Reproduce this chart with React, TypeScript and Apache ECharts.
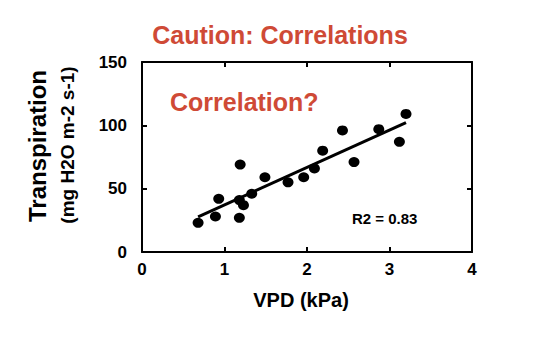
import React, { useEffect, useRef } from "react";
import * as echarts from "echarts";

const vpd = [0.68, 0.89, 0.93, 1.18, 1.19, 1.18, 1.23, 1.33, 1.49, 1.77, 1.96, 2.09, 2.19, 2.43, 2.57, 2.87, 3.12, 3.2];
const transpiration = [23, 28, 42, 27, 69, 41, 37, 46, 59, 55, 59, 66, 80, 96, 71, 97, 87, 109];
const trendX = [0.68, 3.2];
const trendY = [27.8, 102.2];
const xTicks = [0, 1, 2, 3, 4];
const yTicks = [0, 50, 100, 150];

const RED = "#CF4A36";
const FONT = "'Liberation Sans', Arial, sans-serif";

export default function App() {
  const ref = useRef<HTMLDivElement>(null);
  useEffect(() => {
    if (!ref.current) return;
    const chart = echarts.init(ref.current, undefined, { renderer: "svg" });
    const axisBase = {
      axisLine: { show: true, onZero: false, lineStyle: { color: "#000", width: 2 } },
      axisTick: { show: true, inside: true, length: 5, lineStyle: { color: "#000", width: 2 } },
      splitLine: { show: false },
    };
    chart.setOption({
      animation: false,
      textStyle: { fontFamily: FONT },
      grid: { left: 142, right: 72, top: 62, bottom: 100 },
      xAxis: [
        {
          type: "value", min: xTicks[0], max: xTicks[xTicks.length - 1], interval: 1,
          ...axisBase,
          axisLabel: { color: "#000", fontSize: 17, fontWeight: "bold", fontFamily: FONT, margin: 9 },
        },
        {
          type: "value", position: "top", min: 0, max: 4, interval: 1,
          ...axisBase, axisLabel: { show: false },
        },
      ],
      yAxis: [
        {
          type: "value", min: yTicks[0], max: yTicks[yTicks.length - 1], interval: 50,
          ...axisBase,
          axisLabel: { color: "#000", fontSize: 17, fontWeight: "bold", fontFamily: FONT, margin: 15 },
        },
        {
          type: "value", position: "right", min: 0, max: 150, interval: 50,
          ...axisBase, axisLabel: { show: false },
        },
      ],
      graphic: [
        {
          type: "text", x: 280, y: 35,
          style: { text: "Caution: Correlations", fill: RED, font: `bold 25px ${FONT}`, textAlign: "center", textVerticalAlign: "middle" },
        },
        {
          type: "text", left: 170, top: 89,
          style: { text: "Correlation?", fill: RED, font: `bold 25px ${FONT}` },
        },
        {
          type: "text", left: 352, top: 211,
          style: { text: "R2 = 0.83", fill: "#000", font: `bold 15px ${FONT}` },
        },
        {
          type: "text", x: 301, y: 300,
          style: { text: "VPD (kPa)", fill: "#000", font: `bold 20px ${FONT}`, textAlign: "center", textVerticalAlign: "middle" },
        },
        {
          type: "text", x: 37, y: 146, rotation: Math.PI / 2,
          style: { text: "Transpiration", fill: "#000", font: `bold 24px ${FONT}`, textAlign: "center", textVerticalAlign: "middle" },
        },
        {
          type: "text", x: 67, y: 145, rotation: Math.PI / 2,
          style: { text: "(mg H2O m-2 s-1)", fill: "#000", font: `bold 19px ${FONT}`, textAlign: "center", textVerticalAlign: "middle" },
        },
      ],
      series: [
        {
          type: "line",
          data: trendX.map((x, i) => [x, trendY[i]]),
          showSymbol: false,
          lineStyle: { color: "#000", width: 3 },
          z: 2,
        },
        {
          type: "scatter",
          data: vpd.map((x, i) => [x, transpiration[i]]),
          symbol: "circle",
          symbolSize: [11, 10],
          itemStyle: { color: "#000", opacity: 1 },
          z: 3,
        },
      ],
    });
    return () => chart.dispose();
  }, []);
  return <div ref={ref} style={{ width: 544, height: 352, position: "absolute", left: 0, top: 0 }} />;
}
